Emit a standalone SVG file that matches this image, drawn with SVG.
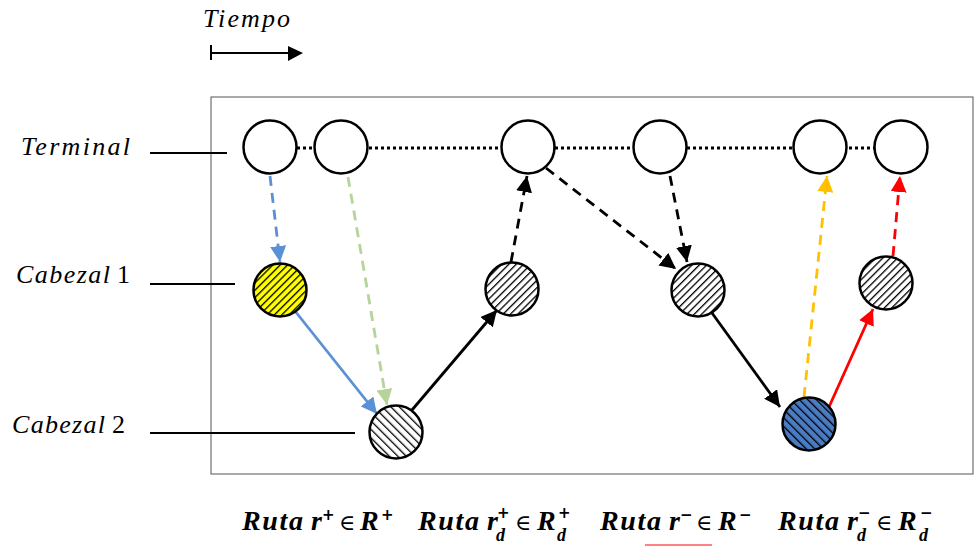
<svg xmlns="http://www.w3.org/2000/svg" width="975" height="546" viewBox="0 0 975 546">
  <style>
    .lbl { font-family: "Liberation Serif", "DejaVu Serif", serif; font-style: italic; font-size: 26px; fill: #000; }
    .num { font-family: "Liberation Serif", "DejaVu Serif", serif; font-style: normal; font-size: 26px; fill: #000; }
    .leg { font-family: "Liberation Serif", "DejaVu Serif", serif; font-style: italic; font-weight: bold; font-size: 28px; fill: #000; }
    .scr { font-family: "Liberation Serif", "DejaVu Serif", serif; font-style: italic; font-weight: bold; font-size: 18px; fill: #000; }
    .sign { font-family: "DejaVu Sans", "Liberation Sans", sans-serif; font-weight: bold; font-size: 15px; fill: #000; }
    .op { font-family: "DejaVu Serif", "Liberation Serif", serif; font-size: 22px; fill: #000; }
    .guide { stroke: #000; stroke-width: 2; }
    .node { stroke: #000; stroke-width: 2.5; }
    .conn { fill: none; stroke-width: 2.8; }
    .dash { stroke-dasharray: 10 7; }
  </style>
  <defs>
    <!-- diagonal hatch "/" for head 1 events -->
    <pattern id="hatchUpWhite" patternUnits="userSpaceOnUse" width="5.2" height="5.2" patternTransform="rotate(45)">
      <rect width="5.2" height="5.2" fill="#fff"/>
      <line x1="0" y1="0" x2="0" y2="5.2" stroke="#000" stroke-width="2.6"/>
    </pattern>
    <pattern id="hatchUpYellow" patternUnits="userSpaceOnUse" width="5.2" height="5.2" patternTransform="rotate(45)">
      <rect width="5.2" height="5.2" fill="#ffff00"/>
      <line x1="0" y1="0" x2="0" y2="5.2" stroke="#000" stroke-width="2.6"/>
    </pattern>
    <!-- diagonal hatch "\" for head 2 events -->
    <pattern id="hatchDownWhite" patternUnits="userSpaceOnUse" width="6" height="6" patternTransform="rotate(-45)">
      <rect width="6" height="6" fill="#fff"/>
      <line x1="0" y1="0" x2="0" y2="6" stroke="#000" stroke-width="2.6"/>
    </pattern>
    <pattern id="hatchDownBlue" patternUnits="userSpaceOnUse" width="6" height="6" patternTransform="rotate(-45)">
      <rect width="6" height="6" fill="#4a7cc4"/>
      <line x1="0" y1="0" x2="0" y2="6" stroke="#000" stroke-width="2.6"/>
    </pattern>
    <marker id="arrBlack" markerUnits="userSpaceOnUse" markerWidth="17" markerHeight="16" refX="16" refY="8" orient="auto">
      <path d="M0,0 L16,8 L0,16 z" fill="#000"/>
    </marker>
    <marker id="arrBlue" markerUnits="userSpaceOnUse" markerWidth="17" markerHeight="16" refX="16" refY="8" orient="auto">
      <path d="M0,0 L16,8 L0,16 z" fill="#5b8fd6"/>
    </marker>
    <marker id="arrGreen" markerUnits="userSpaceOnUse" markerWidth="17" markerHeight="16" refX="16" refY="8" orient="auto">
      <path d="M0,0 L16,8 L0,16 z" fill="#b5d49a"/>
    </marker>
    <marker id="arrYellow" markerUnits="userSpaceOnUse" markerWidth="17" markerHeight="16" refX="16" refY="8" orient="auto">
      <path d="M0,0 L16,8 L0,16 z" fill="#ffc000"/>
    </marker>
    <marker id="arrRed" markerUnits="userSpaceOnUse" markerWidth="17" markerHeight="16" refX="16" refY="8" orient="auto">
      <path d="M0,0 L16,8 L0,16 z" fill="#ff0000"/>
    </marker>
  </defs>

  <rect width="975" height="546" fill="#fff"/>

  <!-- time axis -->
  <g id="time-axis">
    <text class="lbl" x="203" y="27" font-size="24" textLength="87">Tiempo</text>
    <line x1="211" y1="45" x2="211" y2="60" class="guide"/>
    <line x1="211" y1="53" x2="290" y2="53" class="guide"/>
    <path d="M288,46 L303,53 L288,61 z" fill="#000"/>
  </g>

  <!-- frame -->
  <rect id="frame" x="211" y="97" width="762" height="377" fill="none" stroke="#555" stroke-width="1"/>

  <!-- row labels -->
  <g id="row-terminal">
    <text class="lbl" x="21" y="155" textLength="109">Terminal</text>
    <line x1="150" y1="153" x2="227" y2="153" class="guide"/>
  </g>
  <g id="row-cabezal1">
    <text class="lbl" x="16" y="283" textLength="94">Cabezal</text>
    <text class="num" x="117" y="283">1</text>
    <line x1="150" y1="284" x2="235" y2="284" class="guide"/>
  </g>
  <g id="row-cabezal2">
    <text class="lbl" x="12" y="433" textLength="93">Cabezal</text>
    <text class="num" x="112" y="433">2</text>
    <line x1="150" y1="433" x2="355" y2="433" class="guide"/>
  </g>

  <!-- terminal timeline -->
  <line id="terminal-line" x1="297" y1="148" x2="875" y2="148" stroke="#000" stroke-width="3" stroke-dasharray="3 3"/>

  <!-- connectors -->
  <g id="connectors">
    <line class="conn dash" x1="270" y1="176" x2="280" y2="262" stroke="#5b8fd6" marker-end="url(#arrBlue)"/>
    <line class="conn dash" x1="348" y1="177" x2="387" y2="405" stroke="#b5d49a" marker-end="url(#arrGreen)"/>
    <line class="conn" x1="295" y1="311" x2="377" y2="414" stroke="#5b8fd6" marker-end="url(#arrBlue)"/>
    <line class="conn" x1="412" y1="410" x2="497" y2="310" stroke="#000" marker-end="url(#arrBlack)"/>
    <line class="conn dash" x1="511" y1="262" x2="527" y2="176" stroke="#000" marker-end="url(#arrBlack)"/>
    <line class="conn dash" x1="546" y1="168" x2="676" y2="269" stroke="#000" marker-end="url(#arrBlack)"/>
    <line class="conn dash" x1="670" y1="176" x2="687" y2="262" stroke="#000" marker-end="url(#arrBlack)"/>
    <line class="conn" x1="712" y1="313" x2="780" y2="407" stroke="#000" marker-end="url(#arrBlack)"/>
    <line class="conn dash" x1="804" y1="397" x2="827" y2="176" stroke="#ffc000" marker-end="url(#arrYellow)"/>
    <line class="conn" x1="829" y1="407" x2="873" y2="309" stroke="#ff0000" marker-end="url(#arrRed)"/>
    <line class="conn dash" x1="893" y1="256" x2="900" y2="176" stroke="#ff0000" marker-end="url(#arrRed)"/>
  </g>

  <!-- terminal nodes -->
  <g id="t1"><circle class="node" cx="270" cy="147" r="26.5" fill="#fff"/></g>
  <g id="t2"><circle class="node" cx="341" cy="147" r="26.5" fill="#fff"/></g>
  <g id="t3"><circle class="node" cx="528" cy="147" r="26.5" fill="#fff"/></g>
  <g id="t4"><circle class="node" cx="660" cy="147" r="26.5" fill="#fff"/></g>
  <g id="t5"><circle class="node" cx="820" cy="147" r="26.5" fill="#fff"/></g>
  <g id="t6"><circle class="node" cx="901" cy="147" r="26.5" fill="#fff"/></g>

  <!-- head 1 nodes -->
  <g id="c1a"><circle class="node" cx="280" cy="290" r="26.5" fill="url(#hatchUpYellow)"/></g>
  <g id="c1b"><circle class="node" cx="512" cy="289" r="26.5" fill="url(#hatchUpWhite)"/></g>
  <g id="c1c"><circle class="node" cx="698" cy="290" r="26.5" fill="url(#hatchUpWhite)"/></g>
  <g id="c1d"><circle class="node" cx="886" cy="283" r="26.5" fill="url(#hatchUpWhite)"/></g>

  <!-- head 2 nodes -->
  <g id="c2a"><circle class="node" cx="396" cy="432" r="26.5" fill="url(#hatchDownWhite)"/></g>
  <g id="c2b"><circle class="node" cx="809" cy="424" r="26.5" fill="url(#hatchDownBlue)"/></g>

  <!-- route legend -->
  <g id="legend">
    <text class="leg" x="242" y="530" textLength="61">Ruta</text>
    <text class="leg" x="311" y="530">r</text>
    <text class="sign" x="322" y="520">+</text>
    <text class="op" x="339" y="530">∈</text>
    <text class="leg" x="360" y="530">R</text>
    <text class="sign" x="381" y="520">+</text>

    <text class="leg" x="418" y="530" textLength="61">Ruta</text>
    <text class="leg" x="487" y="530">r</text>
    <text class="sign" x="497" y="518">+</text>
    <text class="scr" x="496" y="541">d</text>
    <text class="op" x="515" y="530">∈</text>
    <text class="leg" x="537" y="530">R</text>
    <text class="sign" x="558" y="518">+</text>
    <text class="scr" x="557" y="541">d</text>

    <text class="leg" x="600" y="530" textLength="61">Ruta</text>
    <text class="leg" x="669" y="530">r</text>
    <text class="sign" x="680" y="520">−</text>
    <text class="op" x="696" y="530">∈</text>
    <text class="leg" x="718" y="530">R</text>
    <text class="sign" x="739" y="520">−</text>

    <text class="leg" x="778" y="530" textLength="61">Ruta</text>
    <text class="leg" x="847" y="530">r</text>
    <text class="sign" x="858" y="518">−</text>
    <text class="scr" x="857" y="541">d</text>
    <text class="op" x="876" y="530">∈</text>
    <text class="leg" x="898" y="530">R</text>
    <text class="sign" x="920" y="518">−</text>
    <text class="scr" x="919" y="541">d</text>
  </g>

  <line x1="645" y1="545" x2="712" y2="545" stroke="#ff8080" stroke-width="2"/>
</svg>
